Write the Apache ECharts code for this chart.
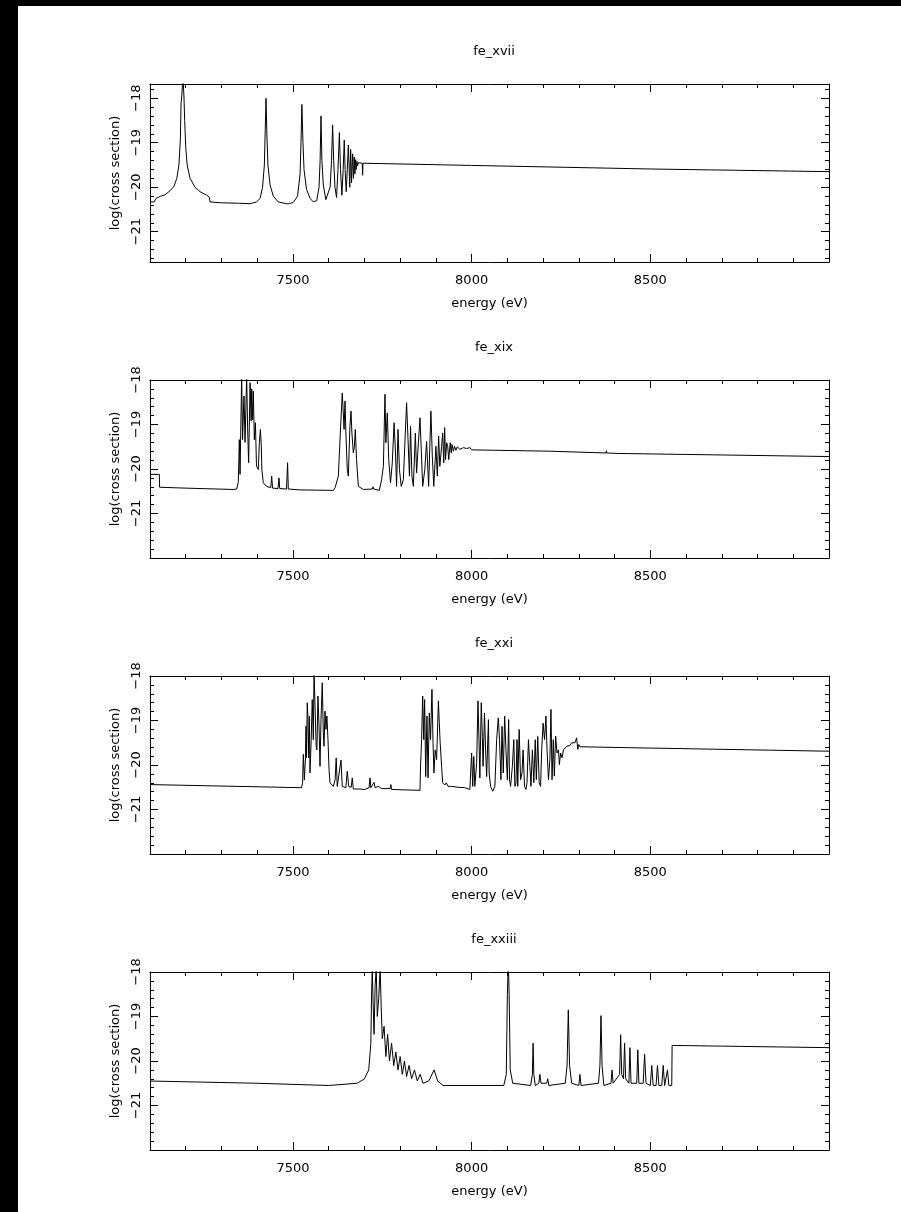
<!DOCTYPE html>
<html>
<head>
<meta charset="utf-8">
<script src="https://cdn.jsdelivr.net/npm/echarts@6/dist/echarts.min.js"></script>
<style>
  html, body { margin: 0; padding: 0; background: #fff; }
  #main { width: 901px; height: 1212px; }
</style>
</head>
<body>
<div id="main"></div>
<script>
var myChart = echarts.init(document.getElementById('main'));

// panel titles and axis ranges
var panelNames = ['fe_xvii', 'fe_xix', 'fe_xxi', 'fe_xxiii'];
var xMin = 7100, xMax = 9000;
var yMin = [-21.68, -22, -22, -22];
var yMax = [-17.68, -18, -18, -18];

// [energy (eV), log(cross section)]
var fe17 = [
  [7100,-20.33],[7112,-20.33],[7117,-20.25],[7130,-20.2],[7142,-20.17],[7156,-20.08],[7167,-19.98],
  [7175,-19.8],[7181,-19.5],[7185,-18.9],[7187,-18.1],[7189,-17.95],[7192,-17.5],[7195,-17.95],
  [7197,-18.5],[7200,-19.1],[7204,-19.5],[7212,-19.8],[7226,-20.0],[7240,-20.1],[7257,-20.17],
  [7266,-20.22],[7268,-20.33],[7300,-20.35],[7350,-20.36],[7380,-20.37],[7398,-20.33],[7408,-20.25],
  [7415,-20.0],[7420,-19.5],[7422.5,-18.7],[7424.6,-18.0],[7427,-18.8],[7430,-19.5],[7436,-19.95],
  [7445,-20.2],[7459,-20.33],[7482,-20.37],[7490,-20.37],[7501,-20.34],[7513,-20.2],[7520,-19.7],
  [7522.5,-19.0],[7525,-18.14],[7528,-19.0],[7531,-19.6],[7538,-20.05],[7548,-20.25],[7557,-20.33],
  [7566.5,-20.3],[7573,-20.0],[7576,-19.4],[7578.5,-18.4],[7581,-19.4],[7585,-19.95],[7592,-20.28],
  [7604,-20.0],[7608,-19.4],[7611,-18.6],[7614,-19.4],[7617.5,-20.0],[7622,-20.23],[7626,-19.6],
  [7630,-18.77],[7633,-19.6],[7637,-20.18],[7640.5,-19.6],[7643.6,-18.94],[7646,-19.6],[7649,-20.1],
  [7652,-19.6],[7655,-19.05],[7657,-19.5],[7659,-20.0],[7661.5,-19.15],[7664,-19.9],[7667,-19.25],
  [7669.5,-19.8],[7671.5,-19.32],[7673.5,-19.7],[7675.4,-19.38],[7677,-19.6],[7679,-19.42],
  [7681,-19.52],[7683,-19.45],[7694,-19.46],[7695,-19.73],[7696,-19.46],[7700,-19.46],
  [8000,-19.51],[8500,-19.59],[9000,-19.65]
];
var fe19 = [
  [7100,-20.12],[7126,-20.12],[7127,-20.41],[7200,-20.43],[7333,-20.46],[7342.5,-20.45],[7347,-20.3],
  [7350,-19.34],[7352,-20.12],[7356.5,-17.9],[7359,-19.34],[7363,-18.36],[7366,-19.4],[7370.5,-17.9],
  [7373,-19.04],[7376,-19.86],[7380,-18.06],[7383,-18.92],[7384.5,-18.2],[7387,-18.89],[7389,-18.25],
  [7392,-19.34],[7395,-18.96],[7398,-19.94],[7403,-20.01],[7406,-19.41],[7409,-19.11],[7411.5,-19.49],
  [7413,-20.01],[7417,-20.31],[7426,-20.39],[7438,-20.42],[7440.5,-20.16],[7443,-20.43],[7458,-20.44],
  [7461,-20.2],[7463,-20.44],[7482,-20.45],[7485,-19.86],[7487,-20.45],[7520,-20.47],[7613,-20.48],
  [7618,-20.42],[7627,-20.16],[7633.5,-19.04],[7638,-18.29],[7640,-18.59],[7643,-19.11],[7645.7,-18.47],
  [7648,-19.15],[7652,-20.01],[7655,-20.16],[7659.5,-19.04],[7662.5,-18.7],[7665,-19.19],[7669,-19.64],
  [7672,-19.49],[7674.5,-19.11],[7678,-19.79],[7683,-20.39],[7697,-20.46],[7722,-20.45],[7724,-20.4],
  [7726,-20.45],[7741.7,-20.48],[7748,-20.24],[7753,-19.94],[7757.5,-18.32],[7760,-19.41],[7764,-18.74],
  [7768,-19.79],[7773,-20.31],[7778,-19.86],[7783,-18.96],[7787,-19.64],[7790,-20.39],[7794,-19.11],
  [7798,-20.01],[7803,-20.39],[7809,-20.24],[7818,-18.51],[7822,-19.34],[7826,-20.16],[7829,-19.04],
  [7833,-20.16],[7837,-20.39],[7842.5,-19.19],[7846,-20.09],[7851,-19.41],[7855.5,-18.85],[7859,-19.56],
  [7863,-20.39],[7869,-20.01],[7874,-19.38],[7879.7,-20.39],[7886,-18.7],[7890,-19.71],[7894,-20.39],
  [7900,-19.49],[7904,-20.16],[7907.7,-19.26],[7911,-19.94],[7916,-19.49],[7919,-19.19],[7922,-19.86],
  [7924.5,-19.07],[7927,-19.79],[7930,-19.41],[7933,-19.49],[7936,-19.79],[7940,-19.41],[7943,-19.64],
  [7945,-19.45],[7949,-19.6],[7952,-19.49],[7956,-19.58],[7960,-19.5],[7967,-19.56],[7977,-19.52],
  [7986,-19.54],[7995,-19.52],[8000,-19.57],[8219,-19.6],[8376,-19.64],[8377,-19.59],[8378,-19.64],
  [8407,-19.65],[8408,-19.61],[8409,-19.65],[9000,-19.72]
];
var fe21 = [
  [7100,-20.44],[7524,-20.51],[7527,-20.4],[7529,-19.76],[7532,-20.34],[7535,-19.84],[7536.5,-19.13],
  [7538,-19.84],[7540,-18.6],[7542,-18.94],[7544,-19.84],[7546,-18.9],[7547.7,-20.18],[7551,-19.43],
  [7554,-18.53],[7557,-19.43],[7559,-17.9],[7562,-17.9],[7565,-19.58],[7567,-19.66],[7570,-18.45],
  [7573,-19.13],[7575.7,-20.03],[7578.5,-18.98],[7582,-18.15],[7585,-19.28],[7587,-19.58],[7589.7,-18.79],
  [7592.5,-19.2],[7595,-18.9],[7598,-19.43],[7601,-20.1],[7603.6,-20.4],[7608,-20.44],[7613,-20.48],
  [7618,-20.33],[7621,-19.84],[7624,-20.48],[7629,-20.48],[7634.5,-19.89],[7638,-20.48],[7648,-20.51],
  [7652,-20.14],[7656,-20.48],[7663,-20.5],[7666,-20.29],[7669,-20.54],[7687,-20.54],[7701,-20.55],
  [7713,-20.51],[7715.6,-20.29],[7718,-20.51],[7723,-20.48],[7726.8,-20.39],[7730,-20.51],[7739,-20.48],
  [7748,-20.53],[7772,-20.53],[7774,-20.44],[7776,-20.55],[7855.5,-20.57],[7857,-20.03],[7860,-19.43],
  [7863,-18.45],[7866,-19.43],[7868.5,-18.53],[7871.5,-20.26],[7875,-18.9],[7878,-20.29],[7881.5,-18.83],
  [7885,-19.43],[7889,-18.3],[7892,-19.51],[7894.5,-20.18],[7898,-19.66],[7902,-19.88],[7907,-18.56],
  [7909.5,-19.05],[7912,-19.51],[7916,-20.03],[7919,-20.4],[7925,-20.45],[7929,-20.4],[7934,-20.48],
  [7943,-20.48],[7948,-20.44],[7962,-20.5],[7981,-20.51],[7995,-20.55],[8000,-19.73],[8003,-20.48],
  [8006,-19.81],[8009,-20.48],[8014,-19.96],[8017.8,-18.56],[8020.6,-19.43],[8023,-20.29],[8027,-18.6],
  [8030,-19.36],[8032,-20.03],[8036,-18.83],[8039,-19.66],[8042,-20.26],[8047,-18.98],[8049,-20.18],
  [8053,-20.48],[8059,-20.59],[8065,-20.48],[8070,-19.43],[8074.6,-18.94],[8078,-19.43],[8082,-20.33],
  [8085,-19.13],[8088.5,-20.18],[8092.4,-18.9],[8096,-19.66],[8100,-20.33],[8103.6,-18.98],[8106,-20.33],
  [8109,-20.48],[8114,-20.03],[8118,-19.43],[8121,-20.48],[8124,-20.4],[8127,-19.43],[8129,-20.48],
  [8133,-19.2],[8137,-20.33],[8141,-20.18],[8144,-19.66],[8148,-20.48],[8152,-20.55],[8155,-20.4],
  [8159,-19.43],[8163,-20.03],[8166,-20.48],[8170,-19.66],[8174,-20.4],[8178,-19.43],[8181,-20.33],
  [8185,-19.36],[8189,-20.4],[8193,-20.48],[8196,-19.66],[8200,-19.06],[8204,-19.43],[8208,-18.9],
  [8211,-19.66],[8215,-20.33],[8219,-19.88],[8222,-18.75],[8225,-20.33],[8228.5,-19.43],[8231.5,-20.25],
  [8235,-19.35],[8239,-19.73],[8243,-19.66],[8245.5,-19.99],[8249,-19.73],[8253,-19.84],[8257,-19.66],
  [8261,-19.69],[8266,-19.58],[8271,-19.54],[8275,-19.56],[8280,-19.5],[8284.5,-19.54],[8289,-19.5],
  [8293.8,-19.39],[8297,-19.65],[8300,-19.54],[8303,-19.59],[8433,-19.61],[8434,-19.57],[8435,-19.61],
  [9000,-19.69]
];
var fe23 = [
  [7100,-20.45],[7400,-20.5],[7600,-20.55],[7680,-20.5],[7700,-20.4],[7712,-20.2],[7718,-19.6],
  [7720,-18.5],[7722,-17.9],[7724,-18.6],[7727,-19.4],[7730,-18.3],[7733,-17.9],[7736,-19.0],
  [7740,-18.6],[7744,-17.9],[7747,-18.8],[7750,-19.5],[7755,-19.22],[7760,-19.9],[7765,-19.4],
  [7770,-20.0],[7776,-19.6],[7782,-20.1],[7788,-19.8],[7794,-20.2],[7800,-19.9],[7806,-20.3],
  [7812,-20.0],[7818,-20.35],[7825,-20.1],[7832,-20.4],[7840,-20.2],[7848,-20.45],[7856,-20.3],
  [7864,-20.5],[7880,-20.45],[7895,-20.2],[7905,-20.45],[7920,-20.55],[8090,-20.55],[8097,-20.3],
  [8100,-18.5],[8102.6,-17.8],[8105,-18.5],[8108,-20.2],[8115,-20.5],[8165,-20.55],[8170,-20.3],
  [8172,-19.6],[8174,-20.3],[8178,-20.55],[8188,-20.5],[8191,-20.3],[8194,-20.5],[8210,-20.5],
  [8213,-20.4],[8216,-20.55],[8262,-20.5],[8267,-20.1],[8270.5,-18.85],[8274,-20.1],[8280,-20.5],
  [8300,-20.55],[8303,-20.3],[8306,-20.55],[8355,-20.5],[8359,-20.1],[8362,-18.98],[8365,-20.1],
  [8370,-20.55],[8390,-20.5],[8393,-20.2],[8396,-20.5],[8414,-20.3],[8417,-19.41],[8420,-20.3],
  [8425,-20.4],[8428,-19.6],[8431,-20.4],[8440,-20.5],[8443,-19.7],[8446,-20.5],[8462,-20.5],
  [8465,-19.75],[8468,-20.5],[8480,-20.5],[8484,-19.85],[8488,-20.5],[8500,-20.55],[8504,-20.1],
  [8508,-20.55],[8516,-20.55],[8520,-20.1],[8524,-20.55],[8532,-20.55],[8536,-20.1],[8540,-20.55],
  [8545,-20.55],[8548,-20.2],[8552,-20.55],[8560,-20.55],[8561,-19.65],[9000,-19.7]
];
var panelData = [fe17, fe19, fe21, fe23];

var font = 'DejaVu Sans';
var black = '#000';

function isInt(v) { return Math.abs(v - Math.round(v)) < 1e-6; }

var grids = [], xAxes = [], yAxes = [], titles = [], series = [];
for (var i = 0; i < 4; i++) {
  var gridTop = 84 + 296 * i;
  grids.push({ left: 150, width: 679, top: gridTop, height: 178 });
  titles.push({
    text: panelNames[i], left: 489, top: gridTop - 44, textAlign: 'center',
    textStyle: { fontFamily: font, fontSize: 13, fontWeight: 'normal', color: black }
  });
  ['bottom', 'top'].forEach(function (pos) {
    xAxes.push({
      type: 'value', gridIndex: i, position: pos, min: xMin, max: xMax, splitNumber: 4,
      axisLine: { show: true, onZero: false, lineStyle: { color: black, width: 1 } },
      axisTick: { inside: true, length: 8, lineStyle: { color: black } },
      minorTick: { show: true, splitNumber: 5, length: 4, lineStyle: { color: black } },
      splitLine: { show: false },
      axisLabel: {
        show: pos == 'bottom', margin: 12, color: black, fontFamily: font, fontSize: 13,
        formatter: function (v) { return v % 500 === 0 && v > xMin && v < xMax ? String(v) : ''; }
      },
      name: pos == 'bottom' ? 'energy (eV)' : '',
      nameLocation: 'middle', nameGap: 35,
      nameTextStyle: { color: black, fontFamily: font, fontSize: 13 }
    });
  });
  ['left', 'right'].forEach(function (pos) {
    yAxes.push({
      type: 'value', gridIndex: i, position: pos, min: yMin[i], max: yMax[i], splitNumber: 4,
      axisLine: { show: true, onZero: false, lineStyle: { color: black, width: 1 } },
      axisTick: { inside: true, length: 8, lineStyle: { color: black } },
      minorTick: { show: true, splitNumber: 5, length: 4, lineStyle: { color: black } },
      splitLine: { show: false },
      axisLabel: {
        show: pos == 'left', rotate: 90, margin: 7, color: black, fontFamily: font, fontSize: 13,
        formatter: function (v) { return isInt(v) && v > -22 ? String(Math.round(v)).replace('-', '\u2212') : ''; }
      },
      name: pos == 'left' ? 'log(cross section)' : '',
      nameLocation: 'middle', nameGap: 28,
      nameTextStyle: { color: black, fontFamily: font, fontSize: 13 }
    });
  });
  series.push({
    type: 'line', xAxisIndex: 2 * i, yAxisIndex: 2 * i,
    data: panelData[i], showSymbol: false, clip: true,
    lineStyle: { color: black, width: 1 }
  });
}

option = {
  backgroundColor: '#fff',
  animation: false,
  title: titles,
  grid: grids,
  xAxis: xAxes,
  yAxis: yAxes,
  series: series,
  graphic: [
    { type: 'rect', shape: { x: 0, y: 0, width: 18, height: 1212 }, style: { fill: black } },
    { type: 'rect', shape: { x: 0, y: 0, width: 901, height: 6 }, style: { fill: black } }
  ]
};
myChart.setOption(option, true);
</script>
</body>
</html>
